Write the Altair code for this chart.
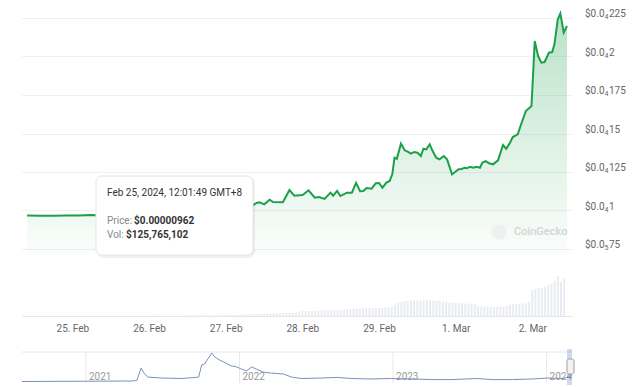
import altair as alt
import pandas as pd

# ---------------- data ----------------
price_times = [
    "2024-02-24T09:50", "2024-02-24T14:00", "2024-02-24T18:00", "2024-02-24T22:00",
    "2024-02-25T02:00", "2024-02-25T06:00", "2024-02-25T12:01", "2024-02-25T18:00",
    "2024-02-26T00:00", "2024-02-26T08:00", "2024-02-26T16:00", "2024-02-27T00:00",
    "2024-02-27T05:00", "2024-02-27T08:40", "2024-02-27T09:41", "2024-02-27T10:37",
    "2024-02-27T12:04", "2024-02-27T13:47", "2024-02-27T14:50", "2024-02-27T17:55",
    "2024-02-27T19:58", "2024-02-27T21:30", "2024-02-27T23:03", "2024-02-28T00:05",
    "2024-02-28T01:57", "2024-02-28T03:53", "2024-02-28T05:13", "2024-02-28T06:58",
    "2024-02-28T08:49", "2024-02-28T09:39", "2024-02-28T10:53", "2024-02-28T11:55",
    "2024-02-28T13:58", "2024-02-28T15:31", "2024-02-28T16:50", "2024-02-28T18:05",
    "2024-02-28T19:05", "2024-02-28T20:08", "2024-02-28T21:41", "2024-02-28T23:01",
    "2024-02-29T00:02", "2024-02-29T01:05", "2024-02-29T02:19", "2024-02-29T03:20",
    "2024-02-29T04:10", "2024-02-29T04:52", "2024-02-29T05:35", "2024-02-29T06:53",
    "2024-02-29T08:03", "2024-02-29T08:59", "2024-02-29T10:01", "2024-02-29T11:03",
    "2024-02-29T12:04", "2024-02-29T13:07", "2024-02-29T13:55", "2024-02-29T14:50",
    "2024-02-29T15:53", "2024-02-29T16:41", "2024-02-29T17:55", "2024-02-29T18:58",
    "2024-02-29T20:18", "2024-02-29T21:19", "2024-02-29T22:52", "2024-02-29T23:55",
    "2024-03-01T00:55", "2024-03-01T01:56", "2024-03-01T02:47", "2024-03-01T03:29",
    "2024-03-01T04:32", "2024-03-01T05:33", "2024-03-01T06:34", "2024-03-01T07:37",
    "2024-03-01T08:20", "2024-03-01T09:21", "2024-03-01T10:29", "2024-03-01T11:43",
    "2024-03-01T13:16", "2024-03-01T14:49", "2024-03-01T15:49", "2024-03-01T16:52",
    "2024-03-01T17:53", "2024-03-01T19:26", "2024-03-01T20:40", "2024-03-01T21:59",
    "2024-03-01T23:45", "2024-03-02T00:46", "2024-03-02T01:49", "2024-03-02T02:50",
    "2024-03-02T03:51", "2024-03-02T05:13", "2024-03-02T06:14", "2024-03-02T06:56",
    "2024-03-02T07:59", "2024-03-02T08:47", "2024-03-02T09:50", "2024-03-02T10:52",
]
price_values = [
    9.67e-6, 9.66e-6, 9.66e-6, 9.67e-6,
    9.68e-6, 9.70e-6, 9.62e-6, 9.75e-6,
    9.85e-6, 9.95e-6, 1.005e-5, 1.015e-5,
    1.028e-5, 1.036e-5, 1.049e-5, 1.053e-5,
    1.040e-5, 1.070e-5, 1.055e-5, 1.053e-5,
    1.133e-5, 1.096e-5, 1.099e-5, 1.101e-5,
    1.131e-5, 1.083e-5, 1.088e-5, 1.075e-5,
    1.116e-5, 1.096e-5, 1.127e-5, 1.094e-5,
    1.116e-5, 1.116e-5, 1.179e-5, 1.125e-5,
    1.127e-5, 1.146e-5, 1.142e-5, 1.177e-5,
    1.179e-5, 1.148e-5, 1.181e-5, 1.192e-5,
    1.235e-5, 1.343e-5, 1.336e-5, 1.434e-5,
    1.391e-5, 1.382e-5, 1.369e-5, 1.380e-5,
    1.375e-5, 1.354e-5, 1.401e-5, 1.397e-5,
    1.430e-5, 1.391e-5, 1.343e-5, 1.332e-5,
    1.354e-5, 1.332e-5, 1.235e-5, 1.252e-5,
    1.268e-5, 1.270e-5, 1.278e-5, 1.274e-5,
    1.284e-5, 1.278e-5, 1.284e-5, 1.278e-5,
    1.310e-5, 1.321e-5, 1.307e-5, 1.300e-5,
    1.326e-5, 1.425e-5, 1.401e-5, 1.434e-5,
    1.477e-5, 1.495e-5, 1.570e-5, 1.646e-5,
    1.679e-5, 2.101e-5, 2.003e-5, 1.960e-5,
    1.964e-5, 2.025e-5, 2.029e-5, 2.079e-5,
    2.242e-5, 2.280e-5, 2.155e-5, 2.198e-5,
]

# hourly volume bars ($M) starting 2024-02-24 10:00
vol_start = "2024-02-24T10:00"
vol_feb24 = [6] * 14
vol_feb25 = [6] * 24
vol_feb26 = [8] * 12 + [16] * 12
vol_feb27 = [20, 20, 20, 24, 24, 30, 30, 30, 36, 40, 40, 40,
             44, 50, 50, 50, 50, 60, 60, 60, 60, 64, 70, 70]
vol_feb28 = [100, 100, 100, 100, 100, 110, 110, 110, 110, 120, 120, 120,
             120, 130, 130, 140, 140, 140, 150, 160, 160, 160, 160, 160]
vol_feb29 = [160, 160, 170, 170, 180, 220, 260, 280, 300, 300, 310, 310,
             310, 310, 320, 320, 310, 310, 300, 300, 290, 280, 270, 260]
vol_mar01 = [260, 260, 260, 250, 250, 240, 240, 200, 190, 190, 190, 190,
             180, 180, 190, 190, 200, 220, 230, 240, 240, 250, 260, 280]
vol_mar02 = [520, 540, 560, 560, 580, 600, 640, 700, 800, 680, 760]
vol_values = vol_feb24 + vol_feb25 + vol_feb26 + vol_feb27 + vol_feb28 + vol_feb29 + vol_mar01 + vol_mar02

x_tick_dates = [(2, 25), (2, 26), (2, 27), (2, 28), (2, 29), (3, 1), (3, 2)]
# y tick labels "$0.0₄225" etc.: prefix, subscript zero-count, significant digits
y_tick_values = [7.5e-6, 1.0e-5, 1.25e-5, 1.5e-5, 1.75e-5, 2.0e-5, 2.25e-5]
y_tick_prefix = ["$0.0"] * 7
y_tick_sub = ["₅", "₄", "₄", "₄", "₄", "₄", "₄"]
y_tick_digits = ["75", "1", "125", "15", "175", "2", "225"]

nav_dates = [
    "2020-08-02", "2021-04-20", "2021-05-02", "2021-05-12", "2021-05-19", "2021-05-28",
    "2021-07-01", "2021-08-17", "2021-09-26", "2021-10-03", "2021-10-10", "2021-10-27",
    "2021-11-03", "2021-11-15", "2021-11-24", "2021-12-04", "2021-12-13", "2021-12-25",
    "2022-01-06", "2022-01-18", "2022-01-30", "2022-02-10", "2022-02-27", "2022-03-18",
    "2022-04-16", "2022-05-05", "2022-05-29", "2022-07-15", "2022-08-20", "2022-09-25",
    "2022-11-11", "2022-12-28", "2023-02-14", "2023-04-03", "2023-05-21", "2023-07-20",
    "2023-08-25", "2023-10-12", "2023-11-29", "2024-01-04", "2024-02-09", "2024-02-23",
    "2024-03-01",
]
nav_values = [
    4.8, 6.5, 8, 48, 32, 19,
    16, 14.5, 19, 58, 61, 97,
    84, 74, 68, 61, 55, 52,
    45, 39, 52, 45, 35, 32,
    29, 19, 14.5, 16, 18, 14.5,
    13, 14.5, 13, 11, 11, 14.5,
    11, 11, 13, 16, 14.5, 19,
    26,
]
nav_years = ["2021-01-01", "2022-01-01", "2023-01-01", "2024-01-01"]
nav_year_labels = ["2021", "2022", "2023", "2024"]

tooltip_title = "Feb 25, 2024, 12:01:49 GMT+8"
tooltip_price = "$0.00000962"
tooltip_vol = "$125,765,102"

# ---------------- frames ----------------
price_df = pd.DataFrame({"time": [t + ":00Z" for t in price_times], "price": price_values})
vol_df = pd.DataFrame({
    "time": pd.date_range(vol_start, periods=len(vol_values), freq="h").strftime("%Y-%m-%dT%H:%M:00Z"),
    "vol": vol_values,
})
ytick_df = pd.DataFrame({"price": y_tick_values, "pre": y_tick_prefix,
                         "sub": [s.translate(str.maketrans("₀₁₂₃₄₅₆₇₈₉", "0123456789")) for s in y_tick_sub],
                         "dig": y_tick_digits})
nav_df = pd.DataFrame({"date": [d + "T00:00:00Z" for d in nav_dates], "v": nav_values})
year_df = pd.DataFrame({"date": [d + "T00:00:00Z" for d in nav_years], "label": nav_year_labels})
one = pd.DataFrame({"a": [0]})

FONT = "Roboto"
GREEN = "#1ba04a"
LABEL = "#666666"

x_scale = alt.Scale(
    type="utc",
    domain=[alt.DateTime(year=2024, month=2, date=24, hours=9, minutes=48, utc=True),
            alt.DateTime(year=2024, month=3, date=2, hours=10, minutes=52, utc=True)],
)
x_axis = alt.Axis(
    values=[alt.DateTime(year=2024, month=m, date=d, utc=True) for m, d in x_tick_dates],
    labelExpr="utcFormat(datum.value, '%-d. %b')",
    ticks=False, tickSize=0, grid=False, title=None,
    domainColor="#e6e6e6", labelColor=LABEL, labelFont=FONT, labelFontSize=10,
    labelPadding=7,
)
price_scale = alt.Scale(domain=[7.5e-6, 2.25e-5], range=[240, 9], zero=False, nice=False)
price_axis = alt.Axis(
    orient="right", values=y_tick_values, labels=False, grid=True,
    gridColor="#f0f0f0", domain=False, ticks=False, tickSize=0, title=None,
)

vol = alt.Chart(vol_df).mark_bar(size=2, color="#e9edf3").encode(
    x=alt.X("time:T", scale=x_scale, axis=x_axis),
    y=alt.Y("vol:Q", scale=alt.Scale(domain=[0, 800], range=[307, 267], nice=False), axis=None),
)

area = alt.Chart(price_df).mark_area(
    color=alt.Gradient(
        gradient="linear",
        stops=[alt.GradientStop(color="rgba(27,160,74,0.30)", offset=0),
               alt.GradientStop(color="rgba(27,160,74,0.02)", offset=1)],
        x1=1, x2=1, y1=0, y2=1,
    )
).encode(
    x=alt.X("time:T", scale=x_scale, axis=x_axis),
    y=alt.Y("price:Q", scale=price_scale, axis=price_axis),
    y2=alt.datum(7.2e-6),
)
line = alt.Chart(price_df).mark_line(color=GREEN, strokeWidth=2).encode(
    x=alt.X("time:T", scale=x_scale, axis=x_axis),
    y=alt.Y("price:Q", scale=price_scale, axis=price_axis),
)

# right-hand price labels with subscript zero counts
ylab_pre = alt.Chart(ytick_df).mark_text(font=FONT, fontSize=10, color=LABEL, align="left",
                                         baseline="middle", dy=-4).encode(
    x=alt.value(563), y=alt.Y("price:Q", scale=price_scale, axis=price_axis), text="pre:N")
ylab_sub = alt.Chart(ytick_df).mark_text(font=FONT, fontSize=7, color=LABEL, align="left",
                                         baseline="middle", dy=-1).encode(
    x=alt.value(582.5), y=alt.Y("price:Q", scale=price_scale, axis=price_axis), text="sub:N")
ylab_dig = alt.Chart(ytick_df).mark_text(font=FONT, fontSize=10, color=LABEL, align="left",
                                         baseline="middle", dy=-4).encode(
    x=alt.value(587), y=alt.Y("price:Q", scale=price_scale, axis=price_axis), text="dig:N")

# watermark
wm_logo = alt.Chart(one).mark_circle(size=230, color="#ececec").encode(
    x=alt.value(477), y=alt.value(223))
wm_text = alt.Chart(one).mark_text(
    text="CoinGecko", font=FONT, fontSize=11, fontWeight=500, color="#d4d4d4",
    align="left", baseline="middle").encode(x=alt.value(492), y=alt.value(223))

# tooltip
tip_shadow = alt.Chart(one).mark_rect(color="#000000", opacity=0.06, cornerRadius=7).encode(
    x=alt.value(75), x2=alt.value(233), y=alt.value(168), y2=alt.value(249))
tip_box = alt.Chart(one).mark_rect(color="#ffffff", stroke="#e4e4e4", strokeWidth=1, cornerRadius=6).encode(
    x=alt.value(74), x2=alt.value(231), y=alt.value(167), y2=alt.value(246))
tip_title = alt.Chart(one).mark_text(text=tooltip_title, font=FONT, fontSize=10, color="#333333",
                                     align="left", baseline="middle").encode(x=alt.value(85), y=alt.value(184))
tip_p1 = alt.Chart(one).mark_text(text="Price: ", font=FONT, fontSize=10, color="#888888",
                                  align="left", baseline="middle").encode(x=alt.value(85), y=alt.value(212))
tip_p2 = alt.Chart(one).mark_text(text=tooltip_price, font=FONT, fontSize=10, fontWeight="bold", color="#333333",
                                  align="left", baseline="middle").encode(x=alt.value(112), y=alt.value(212))
tip_v1 = alt.Chart(one).mark_text(text="Vol: ", font=FONT, fontSize=10, color="#888888",
                                  align="left", baseline="middle").encode(x=alt.value(85), y=alt.value(226))
tip_v2 = alt.Chart(one).mark_text(text=tooltip_vol, font=FONT, fontSize=10, fontWeight="bold", color="#333333",
                                  align="left", baseline="middle").encode(x=alt.value(104), y=alt.value(226))

main = alt.layer(
    vol, area, line, ylab_pre, ylab_sub, ylab_dig, wm_logo, wm_text,
    tip_shadow, tip_box, tip_title, tip_p1, tip_p2, tip_v1, tip_v2
).resolve_scale(y="independent").properties(width=550, height=307)

# ---------------- navigator ----------------
nav_x = alt.Scale(type="utc",
                  domain=[alt.DateTime(year=2020, month=8, date=2, utc=True),
                          alt.DateTime(year=2024, month=3, date=1, hours=12, utc=True)])
nav_y = alt.Scale(domain=[0, 100], nice=False, zero=False)

nav_top = alt.Chart(one).mark_rule(color="#e3e6ea", strokeWidth=1).encode(
    x=alt.value(0), x2=alt.value(550), y=alt.value(0))
nav_grid = alt.Chart(year_df).mark_rule(color="#e8e8e8", strokeWidth=1).encode(
    x=alt.X("date:T", scale=nav_x, axis=None), y=alt.value(0), y2=alt.value(31))
nav_lbl = alt.Chart(year_df).mark_text(font=FONT, fontSize=10, color="#999999", align="left",
                                       baseline="middle", dx=3).encode(
    x=alt.X("date:T", scale=nav_x, axis=None), y=alt.value(25), text="label:N")
nav_line = alt.Chart(nav_df).mark_line(color="#7a90bd", strokeWidth=1).encode(
    x=alt.X("date:T", scale=nav_x, axis=None),
    y=alt.Y("v:Q", scale=nav_y, axis=None))
nav_band = alt.Chart(one).mark_rect(color="rgba(102,133,194,0.3)").encode(
    x=alt.value(545), x2=alt.value(550), y=alt.value(-3), y2=alt.value(33))
nav_handle = alt.Chart(one).mark_rect(color="#f2f2f2", stroke="#a0a0a0", strokeWidth=1, cornerRadius=2).encode(
    x=alt.value(545), x2=alt.value(552), y=alt.value(7), y2=alt.value(22))

nav = alt.layer(nav_top, nav_grid, nav_lbl, nav_line, nav_band, nav_handle).properties(width=550, height=31)

chart = alt.vconcat(main, nav, spacing=16).properties(
    padding={"left": 12, "top": 1, "right": 0, "bottom": 0},
    background="#ffffff",
).configure_view(strokeWidth=0)

chart.save("out.html", embed_options={"renderer": "svg", "actions": False})
